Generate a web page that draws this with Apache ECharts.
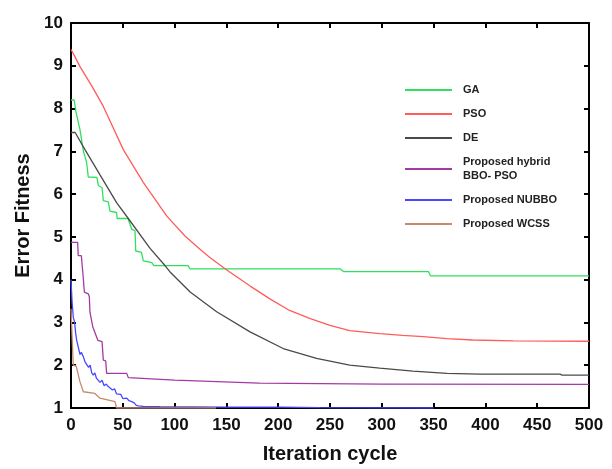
<!DOCTYPE html>
<html>
<head>
<meta charset="utf-8">
<script src="https://cdn.jsdelivr.net/npm/echarts@6/dist/echarts.min.js"></script>
<style>
  html, body { margin: 0; padding: 0; background: #fff; }
  #chart { width: 612px; height: 469px; }
</style>
</head>
<body>
<div id="chart"></div>
<script>
// values, [iteration, error fitness]
const gaData = [[0, 8.2], [3, 8.2], [5, 7.9], [8.7, 7.5], [12, 7.0], [15, 6.75], [16.7, 6.4], [25, 6.39],
  [26.5, 6.2], [30, 6.15], [31.2, 5.85], [36, 5.82], [37.6, 5.6], [44, 5.57], [44.5, 5.43], [55, 5.43],
  [58.6, 5.18], [61.8, 5.14], [62.5, 4.67], [68, 4.64], [69.8, 4.44], [78, 4.4], [80, 4.33], [113, 4.33],
  [115, 4.25], [260, 4.25], [263, 4.19], [345, 4.19], [347, 4.09], [500, 4.09]];
const psoData = [[0, 9.38], [3, 9.25], [8.7, 8.98], [20, 8.53], [31.2, 8.05], [50.5, 7.04], [69.9, 6.27],
  [92.3, 5.49], [110, 5.02], [124.5, 4.71], [134, 4.52], [150, 4.23], [173, 3.85], [192, 3.55], [211, 3.28],
  [231, 3.09], [250, 2.93], [269, 2.81], [298, 2.74], [320, 2.7], [340, 2.67], [363, 2.62], [388, 2.59],
  [427, 2.57], [500, 2.56]];
const deData = [[0, 7.44], [4, 7.44], [13.5, 7.04], [28, 6.45], [44, 5.8], [55.3, 5.43], [76.3, 4.73],
  [90.7, 4.33], [95.6, 4.18], [115, 3.71], [140.6, 3.25], [172.8, 2.78], [204.8, 2.39], [237, 2.16],
  [269, 2.0], [298, 1.93], [330, 1.86], [363, 1.81], [395, 1.79], [472, 1.79], [474, 1.77], [500, 1.77]];
const hybridData = [[0, 4.87], [6.4, 4.87], [7, 4.56], [10, 4.56], [11.9, 4.02], [12.9, 3.71], [16.7, 3.67],
  [17.7, 3.6], [18.3, 3.24], [20, 3.2], [21, 2.9], [26, 2.58], [30, 2.55], [31.2, 2.12], [33.5, 2.1],
  [34.4, 1.81], [53.8, 1.81], [55.3, 1.71], [100, 1.65], [182, 1.58], [300, 1.56], [500, 1.55]];
const nubboData = [[0, 4.0], [1, 3.5], [2.2, 3.12], [3.5, 3.0], [4.5, 2.75], [5.5, 2.58], [7, 2.6], [8.7, 2.25],
  [10, 2.3], [11.9, 2.2], [13.5, 2.08], [15, 2.12], [17, 1.95], [18.5, 2.0], [20, 1.82], [21.5, 1.77],
  [23, 1.82], [24.5, 1.7], [26.4, 1.69], [28, 1.6], [30, 1.65], [32, 1.52], [34, 1.56], [36, 1.5],
  [37.6, 1.46], [40, 1.42], [42, 1.45], [44, 1.33], [45.7, 1.3], [48, 1.32], [50, 1.22], [53.8, 1.23],
  [56, 1.17], [58.6, 1.15], [61, 1.12], [63, 1.06], [65, 1.05], [70, 1.04], [86, 1.03], [150, 1.02],
  [200, 1.02], [201, 1.05], [202, 1.02], [240, 1.01], [350, 1.0]];
const wcssData = [[0, 3.32], [1, 2.7], [2.2, 2.0], [5, 1.98], [8.7, 1.61], [10, 1.6], [11.9, 1.38], [23, 1.34],
  [28, 1.23], [42.5, 1.15], [44, 1.0], [140, 1.0]];

const seriesNames = ["GA", "PSO", "DE", "Proposed hybrid\nBBO- PSO", "Proposed NUBBO", "Proposed WCSS"];
const seriesColors = ["#2ee05c", "#ff5c5c", "#4a4a4a", "#a43aa4", "#4848ff", "#c48a6c"];
const seriesData = [gaData, psoData, deData, hybridData, nubboData, wcssData];

const labelFont = { color: "#111", fontSize: 17, fontWeight: "bold", fontFamily: "Liberation Sans, Arial" };

// the box: plain axes on bottom/left, mirrored ticks on top/right
function boxAxis(extra) {
  return Object.assign({
    type: "value",
    axisLine: { show: true, onZero: false, lineStyle: { color: "#000", width: 2 } },
    axisTick: { show: true, inside: true, length: 5, lineStyle: { color: "#000", width: 2 } },
    splitLine: { show: false }
  }, extra);
}

const chart = echarts.init(document.getElementById("chart"));

chart.setOption({
  backgroundColor: "#fff",
  animation: false,
  grid: { left: 71, right: 23, top: 23, bottom: 59 },
  legend: {
    orient: "vertical",
    left: 400,
    top: 78,
    itemWidth: 47,
    itemHeight: 2,
    itemGap: 10,
    icon: "rect",
    textStyle: { color: "#222", fontSize: 11, fontWeight: "bold", lineHeight: 14,
      fontFamily: "Liberation Sans, Arial", padding: [0, 0, 0, 6] },
    data: seriesNames
  },
  xAxis: [
    boxAxis({
      min: 0, max: 500, interval: 50,
      name: "Iteration cycle", nameLocation: "middle", nameGap: 36,
      nameTextStyle: Object.assign({}, labelFont, { fontSize: 20 }),
      axisLabel: Object.assign({ margin: 9 }, labelFont)
    }),
    boxAxis({ min: 0, max: 500, interval: 50, position: "top", axisLabel: { show: false } })
  ],
  yAxis: [
    boxAxis({
      min: 1, max: 10, interval: 1,
      name: "Error Fitness", nameLocation: "middle", nameGap: 38,
      nameTextStyle: Object.assign({}, labelFont, { fontSize: 20 }),
      axisLabel: Object.assign({ margin: 8 }, labelFont)
    }),
    boxAxis({ min: 1, max: 10, interval: 1, position: "right", axisLabel: { show: false } })
  ],
  series: seriesData.map(function (data, i) {
    return {
      name: seriesNames[i],
      type: "line",
      data: data,
      showSymbol: false,
      color: seriesColors[i],
      lineStyle: { width: 1.3, color: seriesColors[i] }
    };
  })
});
</script>
</body>
</html>
